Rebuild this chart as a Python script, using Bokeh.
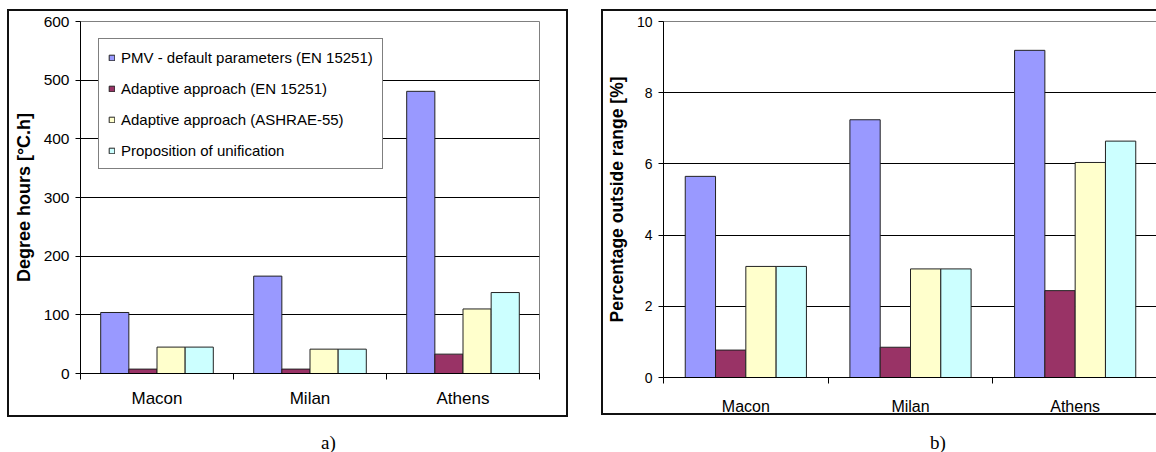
from bokeh.plotting import figure
from bokeh.models import (FactorRange, Range1d, LinearAxis, FixedTicker, Legend, LegendItem,
                          Div, ColumnDataSource)
from bokeh.transform import dodge
from bokeh.layouts import row, column
from bokeh.embed import file_html
from bokeh.resources import INLINE

# ---------------- data ----------------
cities = ["Macon", "Milan", "Athens"]
series_names = ["PMV - default parameters (EN 15251)",
                "Adaptive approach (EN 15251)",
                "Adaptive approach (ASHRAE-55)",
                "Proposition of unification"]
series_keys = ["pmv", "en", "ashrae", "unif"]
colors = ["#9999FF", "#993366", "#FFFFCC", "#CCFFFF"]

# a) degree hours [°C.h]
dh_pmv = [104, 166, 481]
dh_en = [7.5, 7.5, 33]
dh_ashrae = [45, 41.5, 110]
dh_unif = [45, 41.5, 138]

# b) percentage outside range [%]
pc_pmv = [5.65, 7.24, 9.19]
pc_en = [0.77, 0.85, 2.44]
pc_ashrae = [3.12, 3.05, 6.04]
pc_unif = [3.12, 3.05, 6.64]

left_ticks = [0, 100, 200, 300, 400, 500, 600]
right_ticks = [0, 2, 4, 6, 8, 10]

FONT = "Liberation Sans"
BAR_W = 0.184
OFFSETS = [-0.276, -0.092, 0.092, 0.276]


def make_chart(vals, ticks, ytitle, width, height, mb, tick_fs, title_fs, cat_fs,
               cat_standoff, styles, legend_loc=None):
    src = ColumnDataSource(dict(city=cities, **{k: v for k, v in zip(series_keys, vals)}))
    p = figure(x_range=FactorRange(*cities), y_range=Range1d(ticks[0], ticks[-1]),
               width=width, height=height, output_backend="svg", toolbar_location=None,
               x_axis_location=None,
               min_border_left=mb[0], min_border_right=mb[1], min_border_top=mb[2],
               min_border_bottom=mb[3], background_fill_color="white",
               border_fill_color="white", styles=styles)
    p.outline_line_color = "#808080"
    p.outline_line_width = 1

    renderers = []
    for k, c, off in zip(series_keys, colors, OFFSETS):
        r = p.vbar(x=dodge("city", off, range=p.x_range), top=k, width=BAR_W, source=src,
                   fill_color=c, line_color="#222222", line_width=1)
        renderers.append(r)

    # y axis
    yax = p.yaxis[0]
    yax.ticker = FixedTicker(ticks=ticks)
    yax.minor_tick_line_color = None
    yax.major_tick_out = 5
    yax.major_tick_in = 0
    yax.major_label_standoff = 6
    yax.major_label_text_font = FONT
    yax.major_label_text_font_size = tick_fs
    yax.major_label_text_color = "black"
    yax.axis_line_color = "black"
    yax.major_tick_line_color = "black"
    yax.axis_label = ytitle
    yax.axis_label_text_font = FONT
    yax.axis_label_text_font_style = "bold"
    yax.axis_label_text_font_size = title_fs
    yax.axis_label_text_color = "black"
    yax.axis_label_standoff = 7

    p.ygrid.ticker = FixedTicker(ticks=ticks)
    p.ygrid.grid_line_color = "black"
    p.ygrid.grid_line_width = 1
    p.xgrid.grid_line_color = None

    # category axis in the factor range's synthetic coordinates:
    # labels at the category centres, Excel-style tick marks at the boundaries
    n = len(cities)
    centres = [i + 0.5 for i in range(n)]
    xax = LinearAxis(ticker=FixedTicker(ticks=centres, minor_ticks=list(range(n + 1))),
                     major_label_overrides={c: name for c, name in zip(centres, cities)},
                     major_tick_out=0, major_tick_in=0, major_tick_line_color=None,
                     minor_tick_out=6, minor_tick_in=0, minor_tick_line_color="black",
                     axis_line_color="black",
                     major_label_text_font=FONT, major_label_text_font_size=cat_fs,
                     major_label_text_color="black", major_label_standoff=cat_standoff)
    p.add_layout(xax, "below")

    if legend_loc is not None:
        items = [LegendItem(label=nm, renderers=[r]) for nm, r in zip(series_names, renderers)]
        leg = Legend(items=items, location=legend_loc, orientation="vertical",
                     label_text_font=FONT, label_text_font_size="15px",
                     label_text_color="black", glyph_width=7, glyph_height=7,
                     label_height=18, label_standoff=6, spacing=13, padding=9,
                     margin=0, border_line_color="black", border_line_width=1,
                     background_fill_color="white", background_fill_alpha=1.0)
        p.add_layout(leg, "center")
    return p


left = make_chart([dh_pmv, dh_en, dh_ashrae, dh_unif], left_ticks, "Degree hours [°C.h]",
                  width=561, height=408, mb=(71, 31, 10, 46), tick_fs="15.5px",
                  title_fs="18px", cat_fs="17px", cat_standoff=9,
                  styles={"border": "2px solid #111111"}, legend_loc=(18, 204))

right = make_chart([pc_pmv, pc_en, pc_ashrae, pc_unif], right_ticks,
                   "Percentage outside range [%]",
                   width=555, height=406, mb=(59, 1, 10, 39), tick_fs="14px",
                   title_fs="17.5px", cat_fs="16px", cat_standoff=14,
                   styles={"border-top": "2px solid #111111", "border-left": "2px solid #111111",
                           "border-bottom": "2px solid #111111"})

cap_a = Div(text='<span style="font-family: \'Liberation Serif\'; font-size: 19px; color: black;">a)</span>',
            width=30, height=20, margin=(12, 0, 0, 314))
cap_b = Div(text='<span style="font-family: \'Liberation Serif\'; font-size: 19px; color: black;">b)</span>',
            width=30, height=20, margin=(14, 0, 0, 329))

layout = row(column(left, cap_a), column(right, cap_b), spacing=33, margin=(9, 0, 0, 7))

open("out.html", "w").write(file_html(layout, INLINE))
